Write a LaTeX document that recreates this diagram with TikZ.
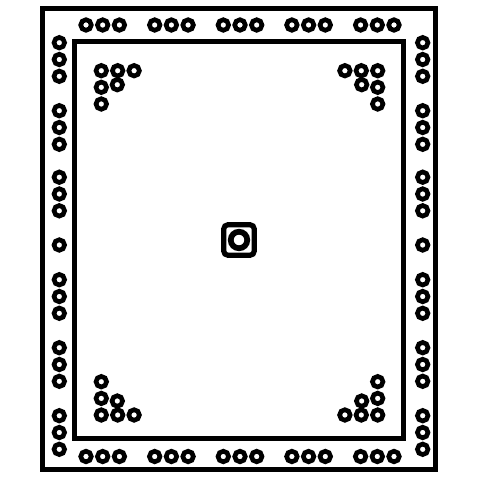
\documentclass[tikz,border=0pt]{standalone}
\begin{document}
\begin{tikzpicture}[x = 0.75pt, y = -0.75pt,
    pad/.style = {circle, draw, line width=3.5pt, minimum size=7.9pt, inner sep=0pt},
    frame/.style = {draw, line width=3.75pt},]
    \useasboundingbox (0,0) rectangle (480,480);
    \draw[frame] (42.5,8.5) rectangle (435.5,469.5);
    \draw[frame] (75,41) rectangle (404,438.5);

    % top and bottom rows
    \foreach \g [count=\n] in {102.7,171.4,240,308.6,377.3}
      \foreach \d [count=\k] in {-1,0,1} {
        \node[pad] (T\n-\k) at ({\g+16.7*\d},25) {};
        \node[pad] (B\n-\k) at ({\g+16.7*\d},456.5) {};
      }

    % left and right columns
    \foreach \g [count=\n] in {59.5,127.5,194,296.5,364.5,432.5}
      \foreach \d [count=\k] in {-1,0,1} {
        \node[pad] (L\n-\k) at (59.3,{\g+16.8*\d}) {};
        \node[pad] (R\n-\k) at (422.7,{\g+16.8*\d}) {};
      }
    \node[pad] (L0) at (59.3,245) {};
    \node[pad] (R0) at (422.7,245) {};

    % corner groups
    \foreach \cx/\cy/\sx/\sy [count=\c] in {101.3/70.7/1/1, 377.7/70.7/-1/1, 101.3/415/1/-1, 377.7/415/-1/-1}
      \foreach \dx/\dy [count=\k] in {0/0, 16.4/0, 32.8/0, 0/16.6, 16/14, 0/33.3}
        \node[pad] (C\c-\k) at ({\cx+\sx*\dx}, {\cy+\sy*\dy}) {};

    % centre mark
    \node[draw, line width=3.9pt, rounded corners=3pt, minimum size=22.8pt, inner sep=0pt] (chip) at (239,240) {};
    \node[circle, draw, line width=4.3pt, minimum size=12.4pt, inner sep=0pt] (hole) at (chip) {};
\end{tikzpicture}
\end{document}
